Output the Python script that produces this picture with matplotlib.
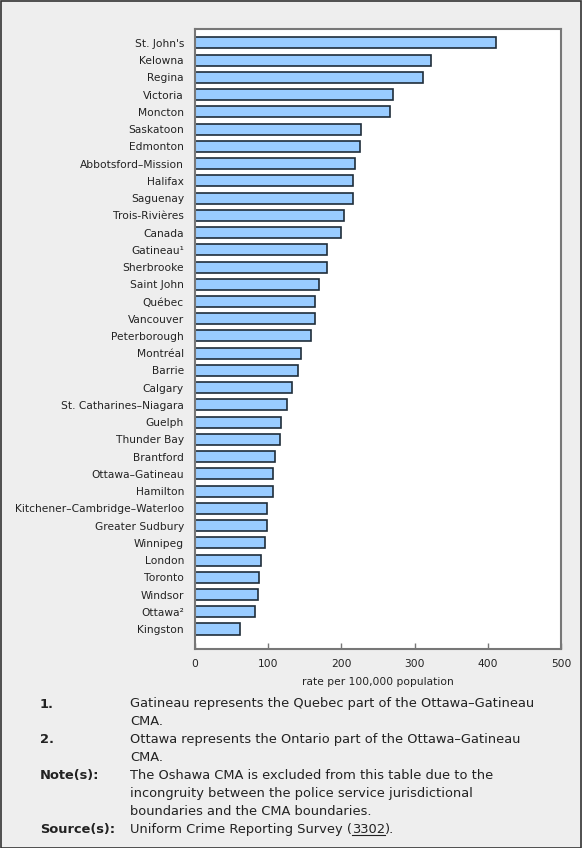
import matplotlib.pyplot as plt
from matplotlib.patches import Rectangle

# data
cities = ["St. John's", "Kelowna", "Regina", "Victoria", "Moncton", "Saskatoon",
          "Edmonton", "Abbotsford–Mission", "Halifax", "Saguenay", "Trois-Rivières",
          "Canada", "Gatineau¹", "Sherbrooke", "Saint John", "Québec", "Vancouver",
          "Peterborough", "Montréal", "Barrie", "Calgary", "St. Catharines–Niagara",
          "Guelph", "Thunder Bay", "Brantford", "Ottawa–Gatineau", "Hamilton",
          "Kitchener–Cambridge–Waterloo", "Greater Sudbury", "Winnipeg", "London",
          "Toronto", "Windsor", "Ottawa²", "Kingston"]
rates = [411, 323, 311, 270, 266, 227, 226, 218, 216, 216, 203, 200, 181, 181,
         170, 164, 164, 159, 145, 141, 132, 126, 118, 116, 109, 107, 106, 99, 98,
         95, 90, 87, 86, 82, 62]
xticks = [0, 100, 200, 300, 400, 500]

notes = [
    ("1.", ["Gatineau represents the Quebec part of the Ottawa–Gatineau", "CMA."]),
    ("2.", ["Ottawa represents the Ontario part of the Ottawa–Gatineau", "CMA."]),
    ("Note(s):", ["The Oshawa CMA is excluded from this table due to the",
                  "incongruity between the police service jurisdictional",
                  "boundaries and the CMA boundaries."]),
]

W, H = 582, 848
bg = '#eeeeee'
fs_chart = 7.7
fs_note = 9.4
fig = plt.figure(figsize=(W / 100, H / 100), dpi=100, facecolor=bg)

# outer frame
fig.patches.append(Rectangle((0.5 / W, 0.5 / H), 1 - 1.5 / W, 1 - 1.5 / H,
                             transform=fig.transFigure, fill=False,
                             edgecolor='#333333', linewidth=1.2))

ax = fig.add_axes([195 / W, 1 - 649 / H, 366 / W, 620 / H])
ax.set_facecolor('white')
pos = list(range(len(cities)))
ax.barh(pos, rates, height=0.64, color='#99ccff', edgecolor='#1f2d3a', linewidth=1.2)
ax.set_xlim(0, 500)
ax.set_ylim(len(cities) - 1 + 1.16, -0.81)
ax.set_yticks(pos)
ax.set_yticklabels(cities, fontsize=fs_chart, color='#222222')
ax.tick_params(axis='y', length=0, pad=8)
ax.set_xticks(xticks)
ax.set_xticklabels([str(t) for t in xticks], fontsize=fs_chart, color='#222222')
ax.tick_params(axis='x', direction='in', length=4, color='#777777', width=1, pad=7)
for s in ax.spines.values():
    s.set_color('#777777')
    s.set_linewidth(1.5)
ax.set_xlabel('rate per 100,000 population', fontsize=fs_chart, color='#222222', labelpad=6)

# footnotes
y = 704
for key, lines in notes:
    fig.text(40 / W, 1 - y / H, key, fontsize=fs_note, fontweight='bold', color='#222222', va='center')
    for ln in lines:
        fig.text(130 / W, 1 - y / H, ln, fontsize=fs_note, color='#222222', va='center')
        y += 17.9
fig.text(40 / W, 1 - y / H, "Source(s):", fontsize=fs_note, fontweight='bold', color='#222222', va='center')
t1 = fig.text(130 / W, 1 - y / H, "Uniform Crime Reporting Survey (", fontsize=fs_note,
              color='#222222', va='center')
fig.canvas.draw()
r = fig.canvas.get_renderer()
bb = t1.get_window_extent(r)
t2 = fig.text(bb.x1 / W, 1 - y / H, "3302", fontsize=fs_note, color='#222222', va='center')
bb2 = t2.get_window_extent(r)
fig.text(bb2.x1 / W, 1 - y / H, ").", fontsize=fs_note, color='#222222', va='center')
uy = bb2.y0 + 1
fig.add_artist(plt.Line2D([bb2.x0 / W, bb2.x1 / W], [uy / H, uy / H],
                          transform=fig.transFigure, color='#222222', linewidth=0.8))

fig.savefig('out.png', dpi=100, facecolor=bg)
